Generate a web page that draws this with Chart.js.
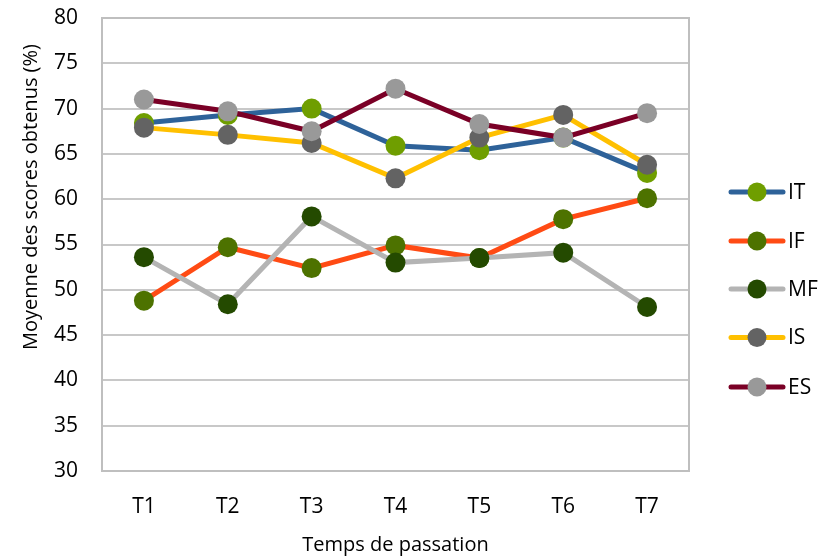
<!DOCTYPE html>
<html>
<head>
<meta charset="utf-8">
<script src="https://cdn.jsdelivr.net/npm/chart.js@4"></script>
<style>
  html, body { margin: 0; padding: 0; background: #ffffff; }
  #wrap { width: 838px; height: 558px; position: relative; }
</style>
</head>
<body>
<div id="wrap"><canvas id="c" width="838" height="558"></canvas></div>
<script>
const categories = ['T1', 'T2', 'T3', 'T4', 'T5', 'T6', 'T7'];
const seriesNames = ['IT', 'IF', 'MF', 'IS', 'ES'];
const IT = [68.4, 69.3, 70.0, 65.9, 65.4, 66.8, 62.9];
const IF = [48.8, 54.7, 52.4, 54.9, 53.5, 57.8, 60.1];
const MF = [53.6, 48.4, 58.1, 53.0, 53.5, 54.1, 48.1];
const IS = [67.9, 67.1, 66.2, 62.3, 66.8, 69.3, 63.8];
const ES = [71.0, 69.7, 67.5, 72.2, 68.3, 66.8, 69.5];
const yMin = 30, yMax = 80, yStep = 5;
const yTitle = 'Moyenne des scores obtenus (%)';
const xTitle = 'Temps de passation';

const lineColors = ['#2E6299', '#FF4B14', '#B4B4B4', '#FFC000', '#7A0026'];
const markerColors = ['#6F9E00', '#4D7200', '#244A00', '#636363', '#999999'];
const values = [IT, IF, MF, IS, ES];

const FONT = '"Open Sans", "DejaVu Sans", sans-serif';

const datasets = seriesNames.map((name, i) => ({
  label: name,
  data: values[i],
  borderColor: lineColors[i],
  backgroundColor: markerColors[i],
  borderWidth: 5,
  pointRadius: 10,
  pointHoverRadius: 10,
  pointBorderWidth: 0,
  pointBackgroundColor: markerColors[i],
  tension: 0,
  order: seriesNames.length - i
}));

const framePlugin = {
  id: 'frame',
  beforeDatasetsDraw(chart) {
    const { ctx, chartArea: a } = chart;
    ctx.save();
    ctx.strokeStyle = '#BFBFBF';
    ctx.lineWidth = 2;
    ctx.strokeRect(a.left, a.top, a.right - a.left, a.bottom - a.top);
    ctx.restore();
  },
  afterDraw(chart) {
    const { ctx, chartArea: a } = chart;
    ctx.save();
    ctx.fillStyle = '#000000';
    ctx.font = '20px ' + FONT;
    ctx.textAlign = 'center';
    ctx.textBaseline = 'middle';
    ctx.fillText(xTitle, (a.left + a.right) / 2, 545);
    ctx.save();
    ctx.translate(31, 197);
    ctx.rotate(-Math.PI / 2);
    ctx.fillText(yTitle, 0, 0);
    ctx.restore();
    const lx0 = 729, lx1 = 785, ys = [192, 241, 289, 337.5, 387];
    chart.data.datasets.forEach((ds, i) => {
      const y = ys[i];
      ctx.strokeStyle = ds.borderColor;
      ctx.lineWidth = 5;
      ctx.lineCap = 'round';
      ctx.beginPath();
      ctx.moveTo(lx0 + 2, y);
      ctx.lineTo(lx1 - 2, y);
      ctx.stroke();
      ctx.fillStyle = ds.pointBackgroundColor;
      ctx.beginPath();
      ctx.arc((lx0 + lx1) / 2, y, 9.5, 0, Math.PI * 2);
      ctx.fill();
      ctx.fillStyle = '#000000';
      ctx.font = '21px ' + FONT;
      ctx.textAlign = 'left';
      ctx.textBaseline = 'middle';
      ctx.fillText(ds.label, 788, y + 1);
    });
    ctx.restore();
  }
};

new Chart(document.getElementById('c'), {
  type: 'line',
  data: { labels: categories, datasets },
  options: {
    responsive: false,
    animation: false,
    devicePixelRatio: 1,
    layout: { padding: { top: 18, right: 149, left: 0, bottom: 0 } },
    plugins: {
      legend: { display: false },
      tooltip: { enabled: false },
      title: { display: false }
    },
    scales: {
      x: {
        offset: true,
        grid: { display: false, drawTicks: false },
        border: { display: false },
        ticks: { color: '#000000', font: { family: FONT, size: 21 }, padding: 23 },
        afterFit(scale) { scale.height = 87; scale.paddingLeft = 0; scale.paddingRight = 0; }
      },
      y: {
        min: yMin,
        max: yMax,
        grid: { color: '#C8C8C8', lineWidth: 2, drawTicks: false },
        border: { display: false },
        ticks: { stepSize: yStep, color: '#000000', font: { family: FONT, size: 21 }, padding: 24 },
        afterFit(scale) { scale.width = 102; scale.paddingTop = 0; scale.paddingBottom = 0; }
      }
    }
  },
  plugins: [framePlugin]
});
</script>
</body>
</html>
